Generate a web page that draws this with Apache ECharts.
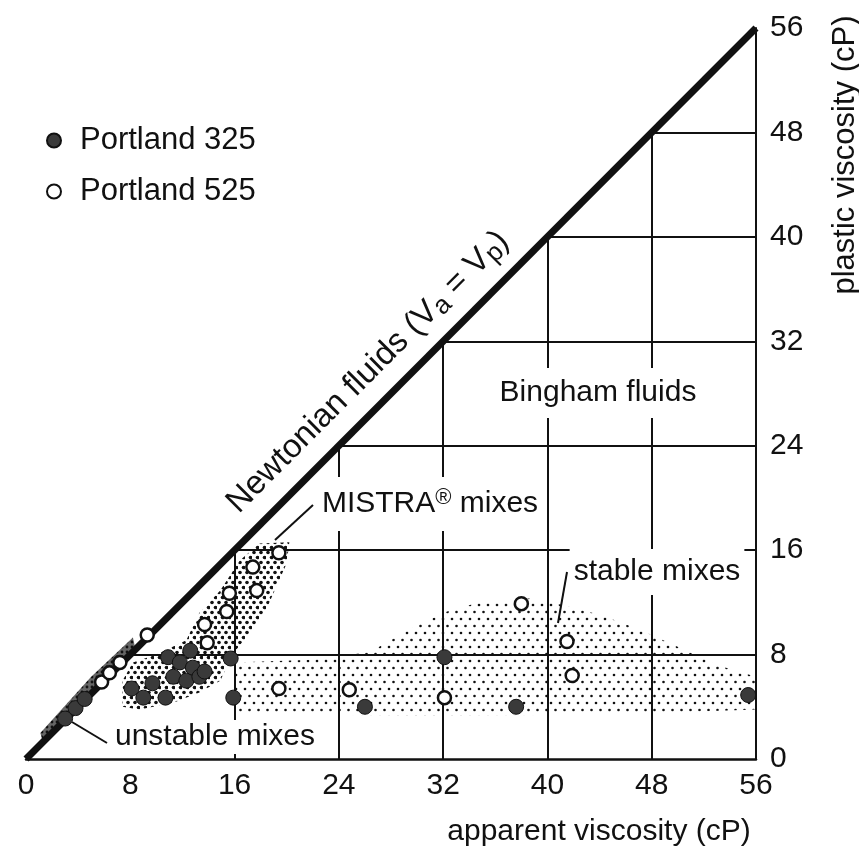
<!DOCTYPE html>
<html lang="en">
<head>
<meta charset="UTF-8">
<title>Plastic vs apparent viscosity</title>
<script src="https://cdn.jsdelivr.net/npm/echarts@6/dist/echarts.min.js"></script>
<style>
  html, body { margin: 0; padding: 0; background: #fff; }
  #chart { width: 859px; height: 857px; }
</style>
</head>
<body>
<div id="chart"></div>
<script>
// axis ticks (same for both axes)
var ticks = [0, 8, 16, 24, 32, 40, 48, 56];
// grid segments: horizontal ones run from the diagonal to the right axis,
// vertical ones from the x axis up to the diagonal
var hLines = [8, 16, 24, 32, 40, 48];
var vLines = [16, 24, 32, 40, 48];

// Portland 325 (filled dots), [apparent, plastic]
var p325 = [
  [3.0, 3.1], [3.8, 3.9], [4.5, 4.6],
  [8.1, 5.4], [9.0, 4.7], [9.7, 5.8], [10.7, 4.7], [10.9, 7.8], [11.3, 6.3],
  [11.8, 7.4], [12.3, 6.0], [12.6, 8.3], [12.8, 7.0], [13.3, 6.3], [13.7, 6.7],
  [15.7, 7.7], [15.9, 4.7], [26.0, 4.0], [32.1, 7.8], [37.6, 4.0], [55.4, 4.9]
];
// Portland 525 (open dots)
var p525 = [
  [5.8, 5.9], [6.4, 6.6], [7.2, 7.4], [9.3, 9.5],
  [13.9, 8.9], [13.7, 10.3], [15.4, 11.3], [15.6, 12.7], [17.7, 12.9], [17.4, 14.7], [19.4, 15.8],
  [19.4, 5.4], [24.8, 5.3], [32.1, 4.7], [38.0, 11.9], [41.5, 9.0], [41.9, 6.4]
];

// shaded zones (outlines in data units)
var unstableZone = [[1.3, 1.3], [1.1, 2.0], [5.0, 6.3], [8.2, 9.3], [8.4, 8.4]];
var mistraZone = [
  [20.2, 16.6], [20.0, 15.0], [18.5, 11.6], [16.9, 9.3], [15.9, 8.1], [14.9, 6.0],
  [13.3, 5.1], [11.3, 4.3], [8.7, 3.8], [7.4, 4.0], [7.4, 6.0], [8.2, 7.4],
  [10.0, 8.0], [12.3, 9.1], [13.3, 11.2], [14.9, 12.9], [16.4, 15.2], [17.9, 16.5]
];
var stableZone = [
  [16, 3.6], [16, 7.4], [22, 7.6], [26.4, 8.2], [29.7, 10.1], [32.3, 11.3],
  [34.8, 12.0], [38.6, 12.3], [41.2, 11.8], [44.2, 11.0], [47.1, 9.9], [50.2, 8.5],
  [53, 7.2], [56, 6.3], [56, 3.8], [45, 3.4], [30, 3.3], [22, 3.4]
];

var FONT = '"Liberation Sans", Arial, Helvetica, sans-serif';
var INK = '#111';

// dotted fills
function dots(w, h, r, pts, bg) {
  var c = document.createElement('canvas');
  c.width = w; c.height = h;
  var g = c.getContext('2d');
  if (bg) { g.fillStyle = bg; g.fillRect(0, 0, w, h); }
  g.fillStyle = INK;
  pts.forEach(function (p) {
    g.beginPath(); g.arc(p[0], p[1], r, 0, Math.PI * 2); g.fill();
  });
  return { image: c, repeat: 'repeat' };
}
var stableFill = dots(9, 14, 1.3, [[2, 3], [6.5, 10]]);
var mistraFill = dots(7, 10, 1.8, [[2, 2.5], [5.5, 7.5]]);
var unstableFill = dots(5, 5, 1.4, [[2, 2]], '#666');

function zone(points, fill) {
  return {
    type: 'custom', coordinateSystem: 'cartesian2d', silent: true, z: 1,
    data: [[0, 0]],
    renderItem: function (params, api) {
      return {
        type: 'polygon',
        shape: { points: points.map(function (p) { return api.coord(p); }) },
        style: { fill: fill }
      };
    }
  };
}

var gridSegs = [];
hLines.forEach(function (v) { gridSegs.push({ coords: [[v, v], [56, v]] }); });
vLines.forEach(function (v) { gridSegs.push({ coords: [[v, 0], [v, v]] }); });

var axisBase = {
  type: 'value', min: 0, max: 56, interval: 8,
  splitLine: { show: false },
  axisTick: { show: false },
  axisLabel: { fontSize: 30, fontFamily: FONT, color: INK, margin: 12 }
};

var chart = echarts.init(document.getElementById('chart'));
chart.setOption({
  animation: false,
  backgroundColor: '#fff',
  grid: { left: 26, right: 103, top: 28, bottom: 98, outerBoundsMode: 'none' },
  xAxis: Object.assign({}, axisBase, {
    axisLine: { show: true, onZero: false, lineStyle: { color: INK, width: 2.5 } }
  }),
  yAxis: Object.assign({}, axisBase, {
    position: 'right',
    axisLine: { show: true, onZero: false, lineStyle: { color: INK, width: 2 } },
    axisLabel: { fontSize: 30, fontFamily: FONT, color: INK, margin: 14 }
  }),
  legend: {
    data: ['Portland 325', 'Portland 525'],
    orient: 'vertical', left: 46, top: 125, padding: 0,
    itemWidth: 14, itemHeight: 14, itemGap: 20, icon: 'circle',
    textStyle: { fontSize: 31, fontFamily: FONT, color: INK, lineHeight: 30, padding: [0, 0, 0, 14] }
  },
  series: [
    zone(stableZone, stableFill),
    zone(mistraZone, mistraFill),
    zone(unstableZone, unstableFill),
    {
      type: 'lines', coordinateSystem: 'cartesian2d', silent: true, z: 2,
      lineStyle: { color: INK, width: 2, opacity: 1 },
      data: gridSegs
    },
    {
      type: 'line', silent: true, z: 4, showSymbol: false,
      lineStyle: { color: INK, width: 7 },
      data: [[0, 0], [56, 56]]
    },
    {
      name: 'Portland 325', type: 'scatter', z: 6, symbolSize: 15,
      itemStyle: { color: '#3a3a3a', borderColor: INK, borderWidth: 1, opacity: 1 },
      data: p325
    },
    {
      name: 'Portland 525', type: 'scatter', z: 6, symbolSize: 13,
      itemStyle: { color: '#fff', borderColor: INK, borderWidth: 2.5, opacity: 1 },
      data: p525
    }
  ],
  graphic: [
    { type: 'text', x: 368, y: 372, rotation: Math.PI / 4, z: 10,
      style: { text: 'Newtonian fluids (V{s|a} = V{s|p})', font: '33px ' + FONT, fill: INK,
        align: 'center', verticalAlign: 'middle',
        rich: { s: { fontSize: 26, fontFamily: FONT, verticalAlign: 'bottom', lineHeight: 38 } } } },
    { type: 'text', x: 598, y: 393, z: 10,
      style: { text: 'Bingham fluids', font: '30px ' + FONT, fill: INK, align: 'center', verticalAlign: 'middle',
        backgroundColor: '#fff', padding: [10, 6] } },
    { type: 'text', x: 430, y: 504, z: 10,
      style: { text: 'MISTRA{sup|®} mixes', font: '30px ' + FONT, fill: INK, align: 'center', verticalAlign: 'middle',
        backgroundColor: '#fff', padding: [10, 8],
        rich: { sup: { fontSize: 22, fontFamily: FONT, verticalAlign: 'top', lineHeight: 34 } } } },
    { type: 'text', x: 657, y: 572, z: 10,
      style: { text: 'stable mixes', font: '30px ' + FONT, fill: INK, align: 'center', verticalAlign: 'middle',
        backgroundColor: '#fff', padding: [8, 4] } },
    { type: 'text', x: 215, y: 737, z: 10,
      style: { text: 'unstable mixes', font: '30px ' + FONT, fill: INK, align: 'center', verticalAlign: 'middle',
        backgroundColor: '#fff', padding: [2, 2] } },
    { type: 'line', z: 10, shape: { x1: 313, y1: 505, x2: 275, y2: 540 }, style: { stroke: INK, lineWidth: 2 } },
    { type: 'line', z: 10, shape: { x1: 567, y1: 572, x2: 558, y2: 623 }, style: { stroke: INK, lineWidth: 2 } },
    { type: 'line', z: 10, shape: { x1: 107, y1: 743, x2: 72, y2: 722 }, style: { stroke: INK, lineWidth: 2 } },
    { type: 'text', x: 599, y: 832, z: 10,
      style: { text: 'apparent viscosity (cP)', font: '30px ' + FONT, fill: INK, align: 'center', verticalAlign: 'middle' } },
    { type: 'text', x: 845, y: 155, rotation: Math.PI / 2, z: 10,
      style: { text: 'plastic viscosity (cP)', font: '31px ' + FONT, fill: INK, align: 'center', verticalAlign: 'middle' } }
  ]
});
</script>
</body>
</html>
